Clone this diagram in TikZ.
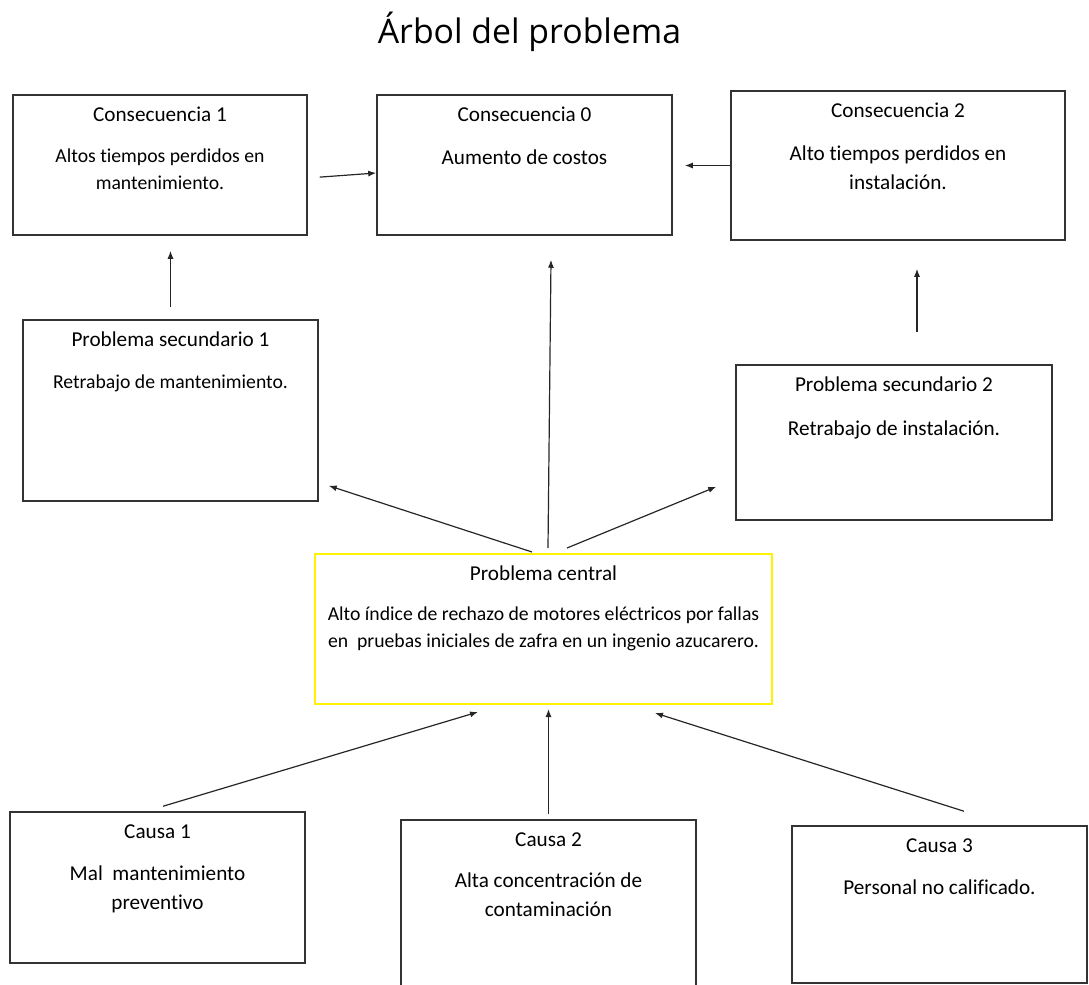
\documentclass[tikz,border=0pt]{standalone}
\usepackage{fontspec}
\setmainfont{Carlito}[Ligatures=CommonOff]
\newfontfamily\titulofont{Open Sans}
\usepackage{tikz}
\usetikzlibrary{arrows.meta,fit}

\tikzset{
  caja/.style={draw=black!80, line width=0.75pt, inner sep=0pt},
  cajacentral/.style={draw=yellow, line width=1pt, inner sep=0pt},
  encabezado/.style={anchor=base, inner sep=0pt, font=\fontsize{10.6}{14}\selectfont},
  texto/.style={align=center, anchor=base, inner sep=0pt, font=\fontsize{10.6}{14.25}\selectfont},
  textochico/.style={texto, font=\fontsize{9.85}{13.5}\selectfont},
  flecha/.style={-{Latex[length=4pt,width=3pt]}, line width=0.6pt, black!85},
}

\begin{document}
\begin{tikzpicture}[x=0.5pt,y=-0.5pt]
        \useasboundingbox (0,0) rectangle (1089,985);
        % titulo
        \node[anchor=base, font=\titulofont\fontsize{16.9}{20}\selectfont] (titulo) at (529.5,43) {Árbol del problema};

        %% consecuencias
        \node[caja, fit={(13,95) (307,235)}] (cons1) {};
        \node[caja, fit={(377,95) (672,235)}] (cons0) {};
        \node[caja, fit={(731,91) (1065,240)}] (cons2) {};
        \node[encabezado] (cons1h) at ([yshift=-13.5pt]cons1.north) {Consecuencia 1};
        \node[textochico] (cons1b) at ([yshift=-47.5pt]cons1.north) {Altos tiempos perdidos en\\mantenimiento.};
        \node[encabezado] (cons0h) at ([yshift=-13.5pt]cons0.north) {Consecuencia 0};
        \node[texto] (cons0b) at ([yshift=-35pt]cons0.north) {Aumento de costos};
        \node[encabezado] (cons2h) at ([yshift=-13.5pt]cons2.north) {Consecuencia 2};
        \node[texto] (cons2b) at ([yshift=-49.5pt]cons2.north) {Alto tiempos perdidos en\\instalación.};

        %% problemas secundarios
        \node[caja, fit={(23,320) (318,501)}] (ps1) {};
        \node[caja, fit={(736,365) (1052,520)}] (ps2) {};
        \node[encabezado] (ps1h) at ([yshift=-13.5pt]ps1.north) {Problema secundario 1};
        \node[textochico] (ps1b) at ([yshift=-34.5pt]ps1.north) {Retrabajo de mantenimiento.};
        \node[encabezado] (ps2h) at ([yshift=-13.5pt]ps2.north) {Problema secundario 2};
        \node[texto] (ps2b) at ([yshift=-35.5pt]ps2.north) {Retrabajo de instalación.};

        %% problema central
        \node[cajacentral, fit={(315,554) (772,704)}] (central) {};
        \node[encabezado] (centralh) at ([yshift=-13.5pt]central.north) {Problema central};
        \node[textochico] (centralb) at ([yshift=-47pt]central.north) {Alto índice de rechazo de motores eléctricos por fallas\\en~~pruebas iniciales de zafra en un ingenio azucarero.};

        %% causas
        \node[caja, fit={(10,812) (305,963)}] (causa1) {};
        \node[caja, fit={(401,820) (696,1000)}] (causa2) {};
        \node[caja, fit={(792,826) (1087,983)}] (causa3) {};
        \node[encabezado] (causa1h) at ([yshift=-13.5pt]causa1.north) {Causa 1};
        \node[texto] (causa1b) at ([yshift=-49pt]causa1.north) {Mal~~mantenimiento\\preventivo};
        \node[encabezado] (causa2h) at ([yshift=-13.5pt]causa2.north) {Causa 2};
        \node[texto] (causa2b) at ([yshift=-48.5pt]causa2.north) {Alta concentración de\\contaminación};
        \node[encabezado] (causa3h) at ([yshift=-13.5pt]causa3.north) {Causa 3};
        \node[texto] (causa3b) at ([yshift=-34.5pt]causa3.north) {Personal no calificado.};

        %% flechas
        \draw[flecha, shorten <=6pt] ([yshift=-6.5pt]cons1.east) -- ([yshift=-4pt]cons0.west);
        \draw[flecha, shorten >=6pt] (cons2.west) -- (cons2.west -| cons0.east);
        \draw[flecha, shorten <=6pt, shorten >=7.5pt] (ps1.north) -- (ps1.north |- cons1.south);
        \draw[flecha, shorten <=16pt, shorten >=14pt] ([xshift=11.5pt]ps2.north) -- ([xshift=11.5pt]ps2.north |- cons2.south);
        \draw[flecha] ([xshift=-5.75pt,yshift=0.5pt]central.north) -- ([xshift=5pt,yshift=8pt]ps1.south east);
        \draw[flecha] ([xshift=2.25pt,yshift=2.5pt]central.north) -- ([xshift=13.25pt,yshift=-12pt]cons0.south);
        \draw[flecha] ([xshift=11.75pt,yshift=2.5pt]central.north) -- ([xshift=-9.5pt,yshift=17pt]ps2.south west);
        \draw[flecha] ([xshift=2.75pt,yshift=2.5pt]causa1.north) -- ([xshift=-32.75pt,yshift=-3.5pt]central.south);
        \draw[flecha, shorten >=2pt] ([yshift=2.5pt]causa2.north) -- (causa2.north |- central.south);
        \draw[flecha] ([xshift=12.25pt,yshift=7pt]causa3.north) -- ([xshift=55.75pt,yshift=-4pt]central.south);
      \end{tikzpicture}
\end{document}
